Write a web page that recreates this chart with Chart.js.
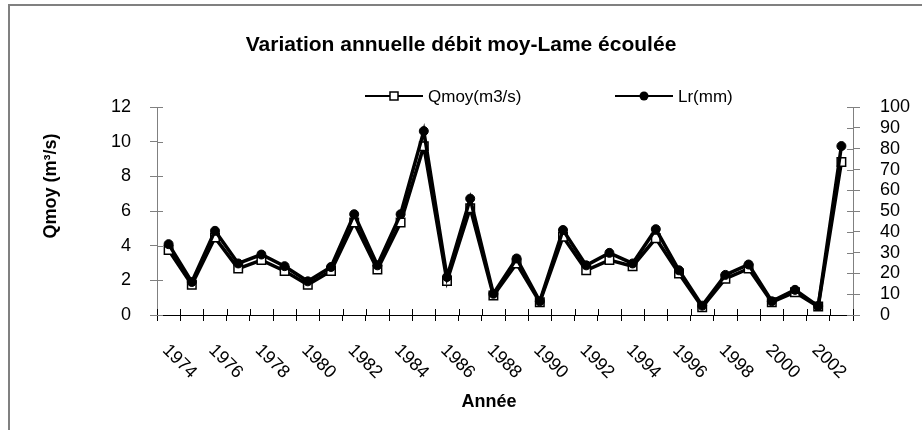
<!DOCTYPE html>
<html>
<head>
<meta charset="utf-8">
<script src="https://cdn.jsdelivr.net/npm/chart.js@4/dist/chart.umd.min.js"></script>
<style>
  html, body { margin: 0; padding: 0; background: #fff; }
  #wrap { width: 922px; height: 430px; position: relative; }
</style>
</head>
<body>
<div id="wrap"><canvas id="chart" width="922" height="430"></canvas></div>
<script>
// data
const years = [1974, 1975, 1976, 1977, 1978, 1979, 1980, 1981, 1982, 1983,
    1984, 1985, 1986, 1987, 1988, 1989, 1990, 1991, 1992, 1993,
    1994, 1995, 1996, 1997, 1998, 1999, 2000, 2001, 2002, 2003];
const qmoy = [3.75, 1.75, 4.47, 2.68, 3.17, 2.54, 1.75, 2.54, 5.34, 2.62,
    5.34, 9.75, 1.96, 6.17, 1.13, 2.97, 0.74, 4.52, 2.58, 3.17,
    2.82, 4.43, 2.39, 0.45, 2.10, 2.68, 0.74, 1.32, 0.49, 8.83];
const lr = [34.1, 15.9, 40.5, 24.8, 29.1, 23.5, 16.2, 23.1, 48.5, 23.9,
    48.5, 88.5, 18.3, 56.0, 10.2, 27.2, 6.6, 40.9, 23.9, 29.9,
    24.8, 41.3, 21.5, 4.5, 19.3, 24.3, 6.6, 12.1, 4.3, 81.3];
const qTicks = [0, 2, 4, 6, 8, 10, 12];
const lrTicks = [0, 10, 20, 30, 40, 50, 60, 70, 80, 90, 100];

const FONT = '"Liberation Sans", Arial, sans-serif';

// frame, inner tick marks, slanted year labels, axis titles and legend
const decor = {
    id: 'decor',
    beforeDraw(chart) {
        const ctx = chart.ctx;
        ctx.save();
        ctx.fillStyle = '#fff';
        ctx.fillRect(0, 0, chart.width, chart.height);
        ctx.strokeStyle = '#808080';
        ctx.lineWidth = 2;
        ctx.beginPath();
        ctx.moveTo(9, chart.height);
        ctx.lineTo(9, 5);
        ctx.lineTo(chart.width, 5);
        ctx.stroke();
        ctx.restore();
    },
    beforeDatasetsDraw(chart) {
        const ctx = chart.ctx;
        const { x, y, y1 } = chart.scales;
        ctx.save();
        ctx.lineWidth = 1;
        ctx.strokeStyle = '#808080';
        ctx.beginPath();
        y.ticks.forEach(t => {
            const py = Math.round(y.getPixelForValue(t.value)) + 0.5;
            ctx.moveTo(y.right, py);
            ctx.lineTo(y.right + 6, py);
        });
        y1.ticks.forEach(t => {
            const py = Math.round(y1.getPixelForValue(t.value)) + 0.5;
            ctx.moveTo(y1.left - 6, py);
            ctx.lineTo(y1.left, py);
        });
        ctx.stroke();
        ctx.strokeStyle = '#000';
        ctx.beginPath();
        for (let i = 0; i <= years.length; i++) {
            const px = Math.round(x.getPixelForValue(i - 0.5)) + 0.5;
            ctx.moveTo(px, x.top);
            ctx.lineTo(px, x.top - 6);
        }
        ctx.stroke();
        ctx.restore();
    },
    afterDraw(chart) {
        const ctx = chart.ctx;
        const { x } = chart.scales;
        ctx.save();
        ctx.fillStyle = '#000';

        // year labels, slanted down to the right
        ctx.font = '18px ' + FONT;
        ctx.textAlign = 'left';
        ctx.textBaseline = 'top';
        years.forEach((yr, i) => {
            if (yr % 2) return;
            ctx.save();
            ctx.translate(x.getPixelForValue(i) + 3, x.top + 26);
            ctx.rotate(Math.PI / 4);
            ctx.fillText(String(yr), 0, 0);
            ctx.restore();
        });

        // axis titles
        ctx.font = 'bold 18px ' + FONT;
        ctx.textAlign = 'center';
        ctx.textBaseline = 'middle';
        ctx.fillText('Année', 489, 402);
        ctx.save();
        ctx.translate(51, 186);
        ctx.rotate(-Math.PI / 2);
        ctx.fillText('Qmoy (m³/s)', 0, 0);
        ctx.restore();

        // legend: line + marker + label
        const ly = 96;
        const items = [
            { x0: 365, x1: 423, label: 'Qmoy(m3/s)', marker: 'rect' },
            { x0: 615, x1: 673, label: 'Lr(mm)', marker: 'circle' }
        ];
        ctx.font = '17px ' + FONT;
        ctx.textAlign = 'left';
        items.forEach(it => {
            ctx.strokeStyle = '#000';
            ctx.lineWidth = 2;
            ctx.beginPath();
            ctx.moveTo(it.x0, ly);
            ctx.lineTo(it.x1, ly);
            ctx.stroke();
            const cx = (it.x0 + it.x1) / 2;
            if (it.marker === 'rect') {
                ctx.fillStyle = '#fff';
                ctx.fillRect(cx - 4, ly - 4, 8, 8);
                ctx.lineWidth = 1.5;
                ctx.strokeRect(cx - 4, ly - 4, 8, 8);
            } else {
                ctx.fillStyle = '#000';
                ctx.beginPath();
                ctx.arc(cx, ly, 4.5, 0, Math.PI * 2);
                ctx.fill();
            }
            ctx.fillStyle = '#000';
            ctx.fillText(it.label, it.x1 + 5, ly + 1);
        });
        ctx.restore();
    }
};

new Chart(document.getElementById('chart'), {
    type: 'line',
    data: {
        labels: years.map(String),
        datasets: [
            {
                label: 'Qmoy(m3/s)',
                data: qmoy,
                yAxisID: 'y',
                order: 1,
                borderColor: '#000',
                borderWidth: 3.5,
                backgroundColor: '#fff',
                pointStyle: 'rect',
                pointRadius: 6,
                pointBorderWidth: 1.5,
                pointBorderColor: '#000',
                pointBackgroundColor: '#fff',
                tension: 0
            },
            {
                label: 'Lr(mm)',
                data: lr,
                yAxisID: 'y1',
                order: 0,
                borderColor: '#000',
                borderWidth: 3.5,
                backgroundColor: '#000',
                pointStyle: 'circle',
                pointRadius: 4.5,
                pointBorderWidth: 1,
                pointBorderColor: '#000',
                pointBackgroundColor: '#000',
                tension: 0
            }
        ]
    },
    options: {
        responsive: false,
        animation: false,
        events: [],
        layout: { padding: 0 },
        plugins: {
            legend: { display: false },
            tooltip: { enabled: false },
            title: {
                display: true,
                text: 'Variation annuelle débit moy-Lame écoulée',
                color: '#000',
                font: { family: FONT, size: 21, weight: 'bold' },
                padding: { top: 33, bottom: 49 }
            }
        },
        scales: {
            x: {
                type: 'category',
                offset: true,
                grid: { drawOnChartArea: false, offset: true, tickLength: 6, color: '#000' },
                border: { color: '#000', width: 1 },
                ticks: { display: false },
                afterFit(scale) { scale.height = 115; }
            },
            y: {
                position: 'left',
                min: 0,
                max: 12,
                afterBuildTicks(scale) { scale.ticks = qTicks.map(v => ({ value: v })); },
                grid: { drawOnChartArea: false, tickLength: 7, color: '#808080' },
                border: { color: '#808080', width: 1 },
                ticks: { color: '#000', padding: 19, autoSkip: false, font: { family: FONT, size: 18 } },
                afterFit(scale) { scale.width = 157; }
            },
            y1: {
                position: 'right',
                min: 0,
                max: 100,
                afterBuildTicks(scale) { scale.ticks = lrTicks.map(v => ({ value: v })); },
                grid: { drawOnChartArea: false, tickLength: 7, color: '#808080' },
                border: { color: '#808080', width: 1 },
                ticks: { color: '#000', padding: 20, autoSkip: false, font: { family: FONT, size: 18 } },
                afterFit(scale) { scale.width = 69; }
            }
        }
    },
    plugins: [decor]
});
</script>
</body>
</html>
